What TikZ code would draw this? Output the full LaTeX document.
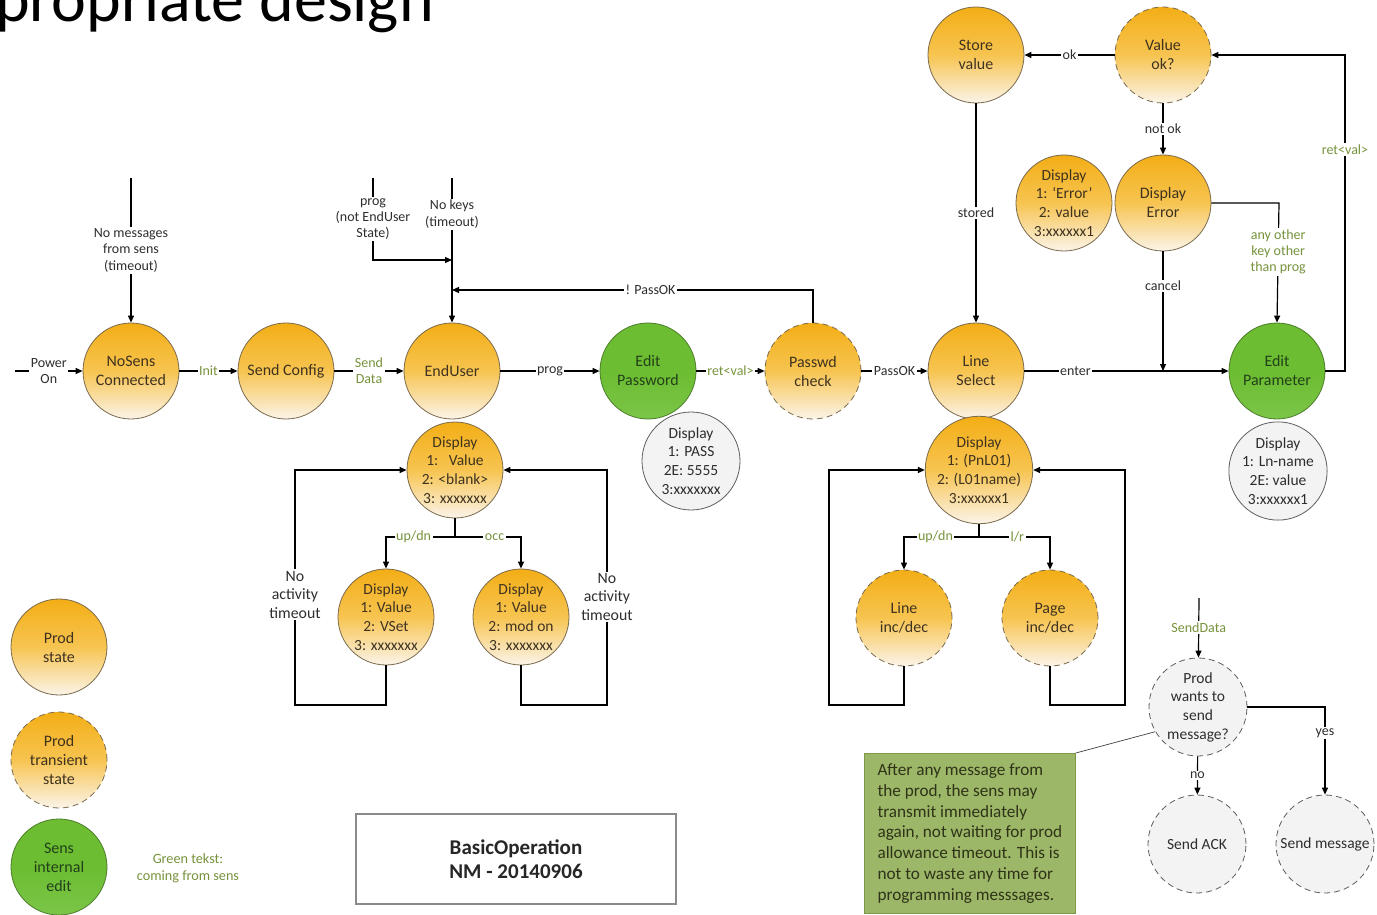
\documentclass[tikz,border=0pt]{standalone}
\usepackage{fontspec}
\setmainfont{Carlito}
\usetikzlibrary{arrows.meta,calc}

% palette
\definecolor{yelTop}{HTML}{F3AE16}
\definecolor{yelMid}{HTML}{F7C451}
\definecolor{yelBot}{HTML}{FBF4E9}
\definecolor{yelLine}{HTML}{7A6A4C}
\definecolor{grnTop}{HTML}{6CBD31}
\definecolor{grnBot}{HTML}{7BC548}
\definecolor{grnLine}{HTML}{4C7D2C}
\definecolor{dispLine}{HTML}{5E5E5E}
\definecolor{dispFill}{HTML}{F3F3F3}
\definecolor{stateText}{HTML}{3F3320}
\definecolor{sensStateText}{HTML}{22401A}
\definecolor{lblText}{HTML}{2E2E2E}
\definecolor{sensText}{HTML}{76933C}
\definecolor{noteFill}{HTML}{9DB768}
\definecolor{noteLine}{HTML}{7D9848}
\definecolor{noteText}{HTML}{2F3318}
\definecolor{boxLine}{HTML}{8A8A8A}

% font sizes
\newcommand{\fsState}{\fontsize{16}{19}\selectfont}
\newcommand{\fsDisp}{\fontsize{15.5}{18.7}\selectfont}
\newcommand{\fsLbl}{\fontsize{14}{16.3}\selectfont}
\newcommand{\fsLoop}{\fontsize{15.8}{18.5}\selectfont}
\newcommand{\fsNote}{\fontsize{17.2}{20.8}\selectfont}
\newcommand{\fsTitle}{\fontsize{21}{24}\selectfont\bfseries}

\tikzset{
  state/.style={circle, minimum size=96pt, inner sep=0pt, align=center,
    draw=yelLine, line width=0.8pt,
    top color=yelTop, bottom color=yelBot, middle color=yelMid,
    text=stateText, font=\fsState},
  tstate/.style={state, dash pattern=on 6pt off 4pt},
  sens/.style={state, top color=grnTop, bottom color=grnBot, middle color=grnTop,
    draw=grnLine, text=sensStateText},
  disp/.style={state, font=\fsDisp},
  wdisp/.style={circle, minimum size=98pt, inner sep=0pt, align=center,
    draw=dispLine, line width=0.8pt, fill=dispFill, text=lblText, font=\fsDisp},
  wtrans/.style={wdisp, dash pattern=on 6pt off 4pt},
  arr/.style={draw=black, line width=1.2pt, -{Triangle[length=7pt,width=6pt]}},
  ln/.style={draw=black, line width=1.2pt},
  lbl/.style={fill=white, inner sep=1.5pt, text=lblText, font=\fsLbl, align=center},
  glbl/.style={lbl, text=sensText},
  looplbl/.style={lbl, font=\fsLoop},
  notebox/.style={rectangle, fill=noteFill, draw=noteLine, line width=0.8pt,
    minimum width=211pt, minimum height=160pt, align=left, text=noteText,
    font=\fsNote, inner sep=0pt},
  titlebox/.style={rectangle, draw=boxLine, line width=1.3pt, fill=white,
    minimum width=320pt, minimum height=90pt, align=center, font=\fsTitle,
    text=black!85}
}

\begin{document}
\begin{tikzpicture}[x=1pt,y=-1pt]
\path[use as bounding box] (0,0) rectangle (1377,915);
\fill[white] (0,0) rectangle (1377,915);

% page heading (runs off the top and left edges)
\node[anchor=base west, inner sep=0pt, font=\fontsize{66}{72}\selectfont,
  text=black] (heading) at (-5,22) {propriate design};

% main row of states
\node[state] (nosens) at (131,371) {NoSens\\Connected};
\node[state] (sendcfg) at (286,371) {Send Config};
\node[state] (enduser) at (452,371) {EndUser};
\node[sens] (editpw) at (648,371) {Edit\\Password};
\node[tstate] (pwchk) at (813,371) {Passwd\\check};
\node[state] (linesel) at (976,371) {Line\\Select};
\node[sens] (editpar) at (1277,371) {Edit\\Parameter};

% value check branch
\node[state] (store) at (976,55) {Store\\value};
\node[tstate] (valok) at (1163,55) {Value\\ok?};
\node[state] (disperr) at (1163,203) {Display\\Error};
\node[disp] (errtxt) at (1064,203) {Display\\1: `Error'\\2: value\\3:xxxxxx1};

% end user displays
\node[disp] (dispu) at (455,470) {Display\\1:\ \ \ Value\\2: <blank>\\3: xxxxxxx};
\node[disp] (dvset) at (386,617) {Display\\1: Value\\2: VSet\\3: xxxxxxx};
\node[disp] (dmod) at (521,617) {Display\\1: Value\\2: mod on\\3: xxxxxxx};
\node[wdisp] (dpw) at (691,461) {Display\\1: PASS\\2E: 5555\\3:xxxxxxx};

% line select displays
\node[disp] (dls) at (979,470) {Display\\1: (PnL01)\\2: (L01name)\\3:xxxxxx1};
\node[tstate] (lineinc) at (904,618) {Line\\inc/dec};
\node[tstate] (pageinc) at (1050,618) {Page\\inc/dec};
\node[wdisp] (dpar) at (1278,471) {Display\\1: Ln-name\\2E: value\\3:xxxxxx1};

% sens side
\node[wtrans] (pw) at (1198,707) {Prod\\wants to\\send\\message?};
\node[wtrans] (ack) at (1197,844) {Send ACK};
\node[wtrans] (msg) at (1325,844) {Send message};

% legend
\node[state] (lgp) at (59,647) {Prod\\state};
\node[tstate] (lgt) at (59,760) {Prod\\transient\\state};
\node[sens] (lgs) at (59,867) {Sens\\internal\\edit};
\node[glbl, font=\fontsize{14.2}{17}\selectfont] (lgtxt) at (188,868) {Green tekst:\\coming from sens};

% title and note
\node[titlebox] (tbox) at (516,859) {BasicOperation\\NM - 20140906};
\node[notebox, anchor=north west] (note) at (864,753)
  {After any message from\\the prod, the sens may\\transmit immediately\\again, not waiting for prod\\allowance timeout. This is\\not to waste any time for\\programming messsages.};

% free ends
\coordinate (pon) at (15,371);
\coordinate (nomsg) at (131,178);
\coordinate (progin) at (373,178);
\coordinate (nokeys) at (452,178);
\coordinate (progjoin) at (452,260);
\coordinate (passjoin) at (452,290);
\coordinate (passtop) at (813,290);
\coordinate (canceljoin) at (1163,371);
\coordinate (anyturn) at (1279,203);
\coordinate (retR) at (1345,371);
\coordinate (retT) at (1345,55);
\coordinate (ujoin) at (455,537);
\coordinate (uleft) at (295,705);
\coordinate (uright) at (607,705);
\coordinate (ljoin) at (979,537);
\coordinate (lleft) at (829,705);
\coordinate (lright) at (1125,705);
\coordinate (sdin) at (1199,598);

% main row transitions
\draw[arr] (pon) -- node[lbl]{Power\\On} (nosens);
\draw[arr] (nosens) -- node[glbl]{Init} (sendcfg);
\draw[arr] (sendcfg) -- node[glbl]{Send\\Data} (enduser);
\draw[arr] (nomsg) -- node[lbl]{No messages\\from sens\\(timeout)} (nosens);
\draw[arr] (progin) -- node[lbl, pos=0.5]{prog\\(not EndUser\\State)} (progin |- progjoin) -- (progjoin);
\draw[arr] (nokeys) -- node[lbl, pos=0.25]{No keys\\(timeout)} (enduser);
\draw[arr] (pwchk.north) -- (passtop) -- node[lbl, pos=0.45]{! PassOK} (passjoin);
\draw[arr] (enduser) -- node[lbl]{prog} (editpw);
\draw[arr] (editpw) -- node[glbl]{ret<val>} (pwchk);
\draw[arr] (pwchk) -- node[lbl]{PassOK} (linesel);
\draw[arr] (linesel) -- node[lbl, pos=0.25]{enter} (editpar);

% value check loop
\draw[arr] (editpar.east) -- (retR) -- node[glbl, pos=0.70]{ret<val>} (retT) -- (valok.east);
\draw[arr] (valok) -- node[lbl]{ok} (store);
\draw[arr] (valok) -- node[lbl]{not ok} (disperr);
\draw[arr] (store) -- node[lbl]{stored} (linesel);
\draw[arr] (disperr.south) -- node[lbl, pos=0.29]{cancel} (canceljoin);
\draw[arr] (disperr.east) -- (anyturn) -- node[glbl, pos=0.41]{any other\\key other\\than prog} (editpar.north);

% end user display tree
\draw[ln] (dispu.south) -- (ujoin);
\draw[arr] (ujoin) -| node[glbl, pos=0.3]{up/dn} (dvset.north);
\draw[arr] (ujoin) -| node[glbl, pos=0.3]{occ} (dmod.north);
\draw[arr] (dvset.south) |- (uleft) -- node[looplbl, pos=0.47]{No\\activity\\timeout} (uleft |- dispu) -- (dispu);
\draw[arr] (dmod.south) |- (uright) -- node[looplbl, pos=0.46]{No\\activity\\timeout} (uright |- dispu) -- (dispu);

% line select display tree
\draw[ln] (dls.south) -- (ljoin);
\draw[arr] (ljoin) -| node[glbl, pos=0.29]{up/dn} (lineinc.north);
\draw[arr] (ljoin) -| node[glbl, pos=0.27]{l/r} (pageinc.north);
\draw[arr] (lineinc.south) |- (lleft) -- (lleft |- dls) -- (dls);
\draw[arr] (pageinc.south) |- (lright) -- (lright |- dls) -- (dls);

% sens message decision
\draw[arr] (sdin) -- node[glbl]{SendData} (pw);
\draw[arr] (pw) -- node[lbl]{no} (ack);
\draw[arr] (pw.east) -| node[lbl, pos=0.65]{yes} (msg.north);
\draw[line width=0.7pt, draw=black!75] (note.north east) -- (pw.210);
\end{tikzpicture}
\end{document}
